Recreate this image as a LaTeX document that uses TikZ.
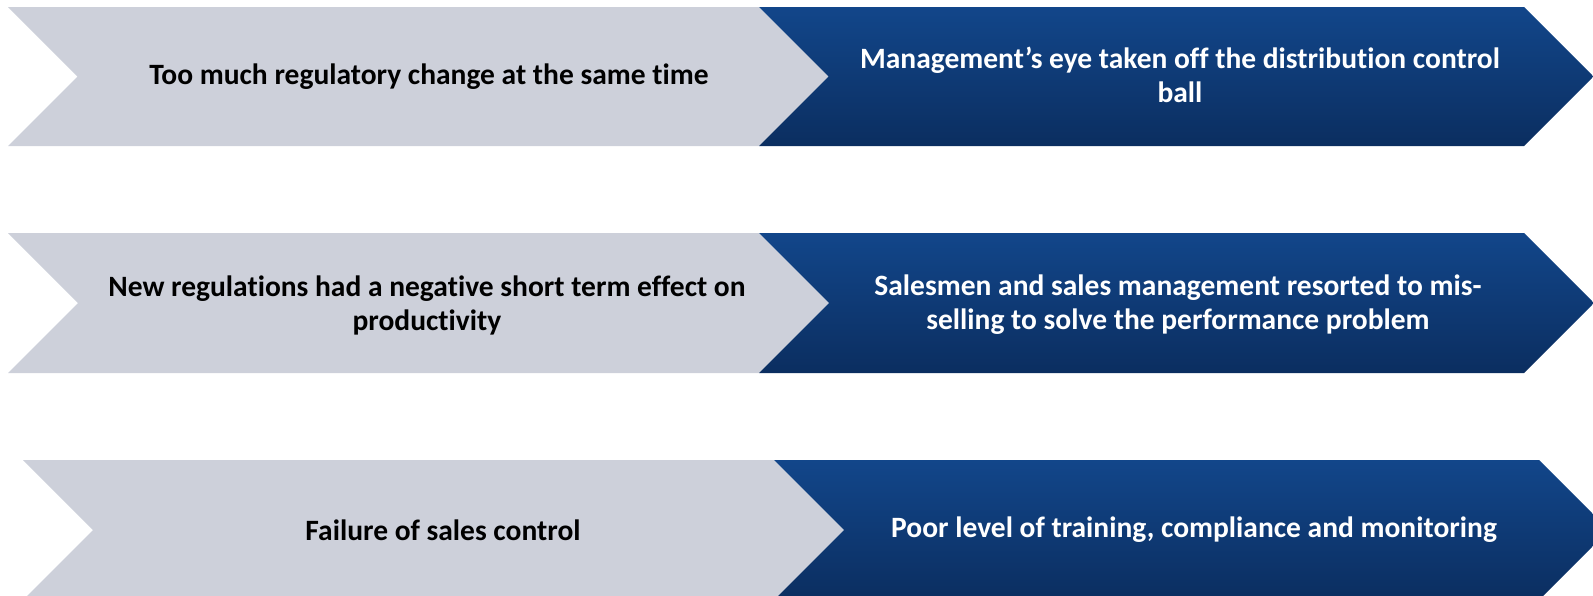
\documentclass[tikz,border=0pt]{standalone}
\usepackage{fontspec}
\setmainfont{Carlito}[RawFeature=-liga]
\begin{document}
\begin{tikzpicture}[x=1pt,y=-1pt,
  greychev/.style={fill={rgb,255:red,205;green,208;blue,218}},
  bluechev/.style={top color={rgb,255:red,18;green,70;blue,138},bottom color={rgb,255:red,11;green,46;blue,96},shading angle=0},
  lefttxt/.style={font=\fontsize{29.5}{34}\selectfont\bfseries,text=black,align=center},
  righttxt/.style={font=\fontsize{29.5}{34}\selectfont\bfseries,text=white,align=center}]
\useasboundingbox (0,0) rectangle (1593,595);
% chevron pairs: x shift, top edge, bottom edge
\foreach \dx/\ty/\by in {0/7/146, 0/233/373, 15/460/600}{
  \pgfmathsetmacro{\my}{(\ty+\by)/2}
  \pgfmathsetmacro{\h}{(\by-\ty)/2}
  \fill[greychev] (8+\dx,\ty) -- (759+\dx,\ty) -- (759+\h+\dx,\my) -- (759+\dx,\by) -- (8+\dx,\by) -- (8+\h+\dx,\my) -- cycle;
  \shade[bluechev] (759+\dx,\ty) -- (1524+\dx,\ty) -- (1524+\h+\dx,\my) -- (1524+\dx,\by) -- (759+\dx,\by) -- (759+\h+\dx,\my) -- cycle;
}
\node[lefttxt] (l1) at (429,77) {Too much regulatory change at the same time};
\node[righttxt] (r1) at (1180,75) {Management’s eye taken off the distribution control\\ball};
\node[lefttxt] (l2) at (427,305) {New regulations had a negative short term effect on\\productivity};
\node[righttxt] (r2) at (1178,305) {Salesmen and sales management resorted to mis-\\selling to solve the performance problem};
\node[lefttxt] (l3) at (443,530) {Failure of sales control};
\node[righttxt] (r3) at (1194,530) {Poor level of training, compliance and monitoring};
\end{tikzpicture}
\end{document}
